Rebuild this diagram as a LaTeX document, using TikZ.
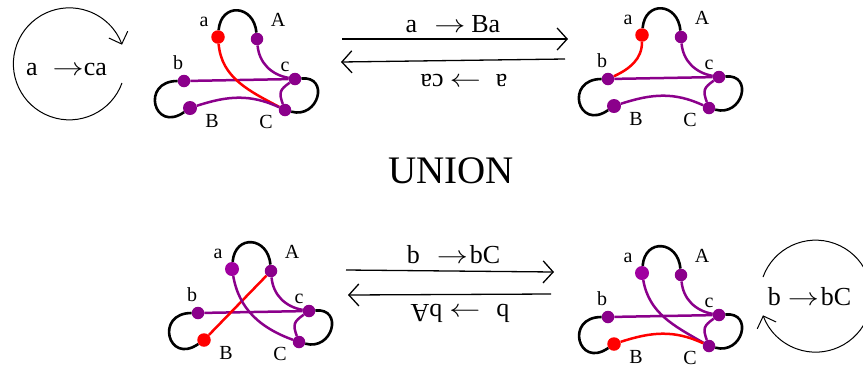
\documentclass[tikz,border=0pt]{standalone}
\usepackage{fontspec}
\setmainfont{Liberation Serif}
\usepackage{xcolor}
\usetikzlibrary{arrows.meta}
\definecolor{KnotPurple}{HTML}{8B008B}
\definecolor{KnotMagenta}{HTML}{A000A0}
\definecolor{KnotRed}{HTML}{FF0000}
\newcommand{\ruleto}{\scalebox{1.25}[1]{$\rightarrow$}}
\tikzset{
  dotp/.style={circle,fill=KnotPurple,inner sep=0pt,minimum size=12.5pt},
  dotw/.style={circle,fill=KnotPurple,inner sep=0pt,minimum size=14pt},
  dotbig/.style={circle,fill=KnotMagenta,inner sep=0pt,minimum size=14pt},
  dotred/.style={circle,fill=KnotRed,inner sep=0pt,minimum size=13.5pt},
  endlabel/.style={anchor=base,inner sep=0pt,font=\fontsize{20}{20}\selectfont},
  rulelabel/.style={anchor=base,inner sep=0pt,font=\fontsize{26}{26}\selectfont},
  blackarc/.style={line width=2.6pt,draw=black},
  purpleline/.style={line width=2.5pt,draw=KnotPurple},
  redline/.style={line width=2.5pt,draw=KnotRed},
  movearrow/.style={-{Straight Barb[length=10pt,width=22pt]},line width=1.3pt,draw=black},
  looparrow/.style={-{Straight Barb[length=10pt,width=20pt]},line width=1pt,draw=black}
}
% one strand picture: suffix, shift, style of end a, style of end B
\newcommand{\strands}[4]{
\begin{scope}[shift={(#2)}]
\node[#3] (a#1) at (218,37) {};
\node[dotp] (A#1) at (257,39) {};
\node[dotp] (b#1) at (184,81) {};
\node[dotp] (c#1) at (295,79) {};
\node[#4] (B#1) at (190,108) {};
\node[dotp] (C#1) at (285,110) {};
\node[endlabel] (la#1) at (204,26) {a};
\node[endlabel] (lA#1) at (278,26) {A};
\node[endlabel] (lb#1) at (178,69) {b};
\node[endlabel] (lc#1) at (285,71) {c};
\node[endlabel] (lB#1) at (212,127) {B};
\node[endlabel] (lC#1) at (266,128) {C};
\draw[blackarc] (a#1) to[out=85,in=95,looseness=1.9] (A#1);
\draw[blackarc] (b#1) to[out=180,in=215,looseness=3] (B#1);
\draw[blackarc] (c#1) to[out=5,in=-15,looseness=2.1] (C#1);
\draw[purpleline] (b#1) -- (c#1);
\draw[purpleline] (A#1) to[out=-85,in=170] (c#1);
\draw[purpleline] (c#1) to[out=215,in=110,looseness=1.4] (C#1);
\end{scope}
}

\begin{document}
\begin{tikzpicture}[x=1pt,y=-1pt]
\clip (0,0) rectangle (863,368);

% upper row
\strands{p}{0,0}{dotred}{dotw}
\strands{q}{424,-2}{dotred}{dotw}
\draw[redline] (ap) to[out=-85,in=152] (Cp);
\draw[purpleline] (Bp) to[out=18,in=155] (Cp);
\draw[redline] (aq) to[out=-90,in=25] (bq);
\draw[purpleline] (Bq) to[out=18,in=155] (Cq);

\coordinate (startone) at (122,83);
\draw[looparrow] (startone) arc[start angle=20,end angle=340,radius=56];
\node[rulelabel] (ruleone) at (66.5,75) {a\hspace{15pt}\ruleto\hspace{0pt}ca};

\coordinate (fwdtopA) at (342,39);
\coordinate (fwdtopB) at (568,39);
\coordinate (bacttopA) at (565,59);
\coordinate (bacttopB) at (341,62);
\draw[movearrow] (fwdtopA) -- (fwdtopB);
\draw[movearrow] (bacttopA) -- (bacttopB);
\node[rulelabel] (fwdtop) at (453,32) {a\hspace{17pt}\ruleto\hspace{6pt}Ba};
\node[rulelabel,rotate=180] (backtop) at (464,74) {a\hspace{15pt}\ruleto\hspace{6pt}ca};

\node[anchor=base,inner sep=0pt,font=\fontsize{39}{39}\selectfont] (union) at (451,183) {UNION};

% lower row
\strands{r}{14,232}{dotbig}{dotred}
\strands{s}{424,236}{dotbig}{dotred}
\draw[redline] (Ar) -- (Br);
\draw[purpleline] (ar) to[out=-80,in=160] (Cr);
\draw[purpleline] (as) to[out=-80,in=150] (Cs);
\draw[redline] (Bs) to[out=18,in=155] (Cs);

\coordinate (fwdlowA) at (346,270);
\coordinate (fwdlowB) at (554,272);
\coordinate (backlowA) at (551,294);
\coordinate (backlowB) at (348,295);
\draw[movearrow] (fwdlowA) -- (fwdlowB);
\draw[movearrow] (backlowA) -- (backlowB);
\node[rulelabel] (fwdlow) at (453.5,263) {b\hspace{17pt}\ruleto\hspace{2pt}bC};
\node[rulelabel,rotate=180] (backlow) at (460,304) {b\hspace{16pt}\ruleto\hspace{7pt}bA};

\coordinate (starttwo) at (763,277);
\draw[looparrow] (starttwo) arc[start angle=200,end angle=520,radius=56];
\node[rulelabel] (ruletwo) at (809.5,305) {b\hspace{7pt}\ruleto\hspace{2pt}bC};
\end{tikzpicture}
\end{document}
